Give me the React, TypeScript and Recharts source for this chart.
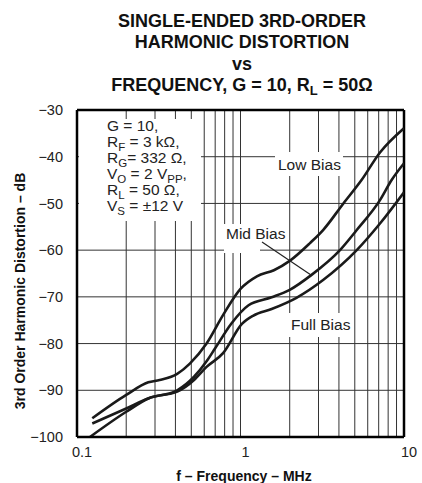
import React from 'react';
import { LineChart, Line, XAxis, YAxis, CartesianGrid, ReferenceLine } from 'recharts';

const FONT = '"Liberation Sans", Arial, Helvetica, sans-serif';

const xTicks = [0.1, 1, 10];
const yTicks = [-100, -90, -80, -70, -60, -50, -40, -30];
const minorFreqs = [0.2, 0.3, 0.4, 0.5, 0.6, 0.7, 0.8, 0.9, 1, 2, 3, 4, 5, 6, 7, 8, 9];

const lowFreq = [0.124, 0.2, 0.273, 0.32, 0.41, 0.49, 0.62, 0.785, 1.0, 1.26, 1.6, 2.0, 2.66, 3.2, 4.26, 5.5, 7.13, 10];
const lowDb = [-96.0, -91.0, -88.3, -87.8, -86.5, -84.3, -80.0, -73.8, -68.3, -65.6, -64.3, -62.3, -58.5, -55.7, -50.0, -45.0, -39.1, -33.9];

const midFreq = [0.124, 0.2, 0.275, 0.41, 0.52, 0.62, 0.7, 0.88, 1.12, 1.55, 2.0, 2.72, 4.06, 5.14, 7.13, 8.4, 10];
const midDb = [-97.1, -93.9, -91.7, -90.0, -87.1, -83.8, -81.0, -75.7, -71.8, -70.1, -68.5, -65.3, -60.0, -55.7, -49.3, -45.0, -41.4];

const fullFreq = [0.12, 0.2, 0.275, 0.41, 0.52, 0.62, 0.785, 1.02, 1.2, 1.55, 2.2, 3.2, 5.14, 7.13, 10];
const fullDb = [-100.0, -94.6, -91.7, -90.3, -87.8, -85.0, -82.0, -75.8, -74.0, -72.6, -70.2, -66.4, -60.0, -54.3, -47.6];

const toData = (fs: number[], ds: number[]) => fs.map((f, i) => ({ f, db: ds[i] }));
const lowData = toData(lowFreq, lowDb);
const midData = toData(midFreq, midDb);
const fullData = toData(fullFreq, fullDb);

const fmtY = (v: number) => String(v).replace('-', '\u2212');

const XTick = (p: any) => (
  <text x={p.x + 5} y={p.y} dy={12} textAnchor="middle" fontSize={14.5} fill="#222" fontFamily={FONT}>
    {p.payload.value}
  </text>
);

const SubLine = ({ x, y, parts }: { x: number; y: number; parts: [string, boolean][] }) => (
  <text x={x} y={y} fontSize={15.5} fill="#222" fontFamily={FONT}>
    {parts.map(([t, sub], i) => {
      const prevSub = i > 0 && parts[i - 1][1];
      const dy = sub && !prevSub ? 4 : !sub && prevSub ? -4 : 0;
      return (
        <tspan key={i} dy={dy} fontSize={sub ? 11.5 : 15.5}>
          {t}
        </tspan>
      );
    })}
  </text>
);

export default function App() {
  return (
    <div style={{ position: 'absolute', left: 0, top: 0, width: 422, height: 483, background: '#fff' }}>
      <LineChart width={422} height={483} margin={{ top: 110, right: 18, bottom: 16, left: 37 }}>
        <CartesianGrid vertical={false} stroke="#333" strokeWidth={1} />
        {minorFreqs.map((f) => (
          <ReferenceLine key={f} x={f} stroke="#333" strokeWidth={1} />
        ))}
        <XAxis
          dataKey="f"
          type="number"
          scale="log"
          domain={[0.1, 10]}
          ticks={xTicks}
          allowDataOverflow
          tickLine={false}
          axisLine={{ stroke: '#000', strokeWidth: 2.5 }}
          tick={XTick}
          height={30}
        />
        <YAxis
          dataKey="db"
          type="number"
          domain={[-100, -30]}
          ticks={yTicks}
          allowDataOverflow
          tickFormatter={fmtY}
          tickLine={false}
          tickMargin={8}
          axisLine={{ stroke: '#000', strokeWidth: 2.5 }}
          tick={{ fontSize: 14.5, fill: '#222', fontFamily: FONT }}
          width={40}
        />
        <ReferenceLine y={-30} stroke="#000" strokeWidth={2.5} />
        <ReferenceLine x={10} stroke="#000" strokeWidth={2.5} />
        <Line data={lowData} dataKey="db" type="monotone" stroke="#1a1a1a" strokeWidth={2.6} dot={false} isAnimationActive={false} />
        <Line data={midData} dataKey="db" type="monotone" stroke="#1a1a1a" strokeWidth={2.6} dot={false} isAnimationActive={false} />
        <Line data={fullData} dataKey="db" type="monotone" stroke="#1a1a1a" strokeWidth={2.6} dot={false} isAnimationActive={false} />
      </LineChart>
      <svg width={422} height={483} style={{ position: 'absolute', left: 0, top: 0, pointerEvents: 'none' }}>
        <g fontFamily={FONT} fontWeight="bold" fontSize={18} fill="#111" textAnchor="middle">
          <text x={242} y={27}>SINGLE-ENDED 3RD-ORDER</text>
          <text x={242} y={48}>HARMONIC DISTORTION</text>
          <text x={242} y={70}>vs</text>
          <text x={242} y={91}>
            FREQUENCY, G = 10, R<tspan dy={4} fontSize={13}>L</tspan>
            <tspan dy={-4}> = 50Ω</tspan>
          </text>
        </g>
        <text transform="translate(25,291) rotate(-90)" textAnchor="middle" fontFamily={FONT} fontWeight="bold" fontSize={14} fill="#111">
          3rd Order Harmonic Distortion – dB
        </text>
        <text x={244} y={481} textAnchor="middle" fontFamily={FONT} fontWeight="bold" fontSize={14} fill="#111">
          f – Frequency – MHz
        </text>

        <rect x={79} y={119} width={122} height={102} fill="#fff" />
        <SubLine x={107} y={131} parts={[['G = 10,', false]]} />
        <SubLine x={107} y={147} parts={[['R', false], ['F', true], [' = 3 kΩ,', false]]} />
        <SubLine x={107} y={163} parts={[['R', false], ['G', true], ['= 332 Ω,', false]]} />
        <SubLine x={107} y={179} parts={[['V', false], ['O', true], [' = 2 V', false], ['PP', true], [',', false]]} />
        <SubLine x={107} y={195} parts={[['R', false], ['L', true], [' = 50 Ω,', false]]} />
        <SubLine x={107} y={211} parts={[['V', false], ['S', true], [' = ±12 V', false]]} />

        <rect x={275} y={152} width={68} height={24} fill="#fff" />
        <text x={278} y={170} fontSize={15.5} fill="#222" fontFamily={FONT}>Low Bias</text>

        <rect x={224} y={224} width={65} height={17} fill="#fff" />
        <rect x={224} y={241} width={36} height={12} fill="#fff" />
        <text x={226} y={238.5} fontSize={15.5} fill="#222" fontFamily={FONT}>Mid Bias</text>
        <line x1={262} y1={242} x2={311} y2={275} stroke="#222" strokeWidth={1.2} />

        <rect x={289} y={313} width={63} height={24} fill="#fff" />
        <text x={291} y={330} fontSize={15.5} fill="#222" fontFamily={FONT}>Full Bias</text>
      </svg>
    </div>
  );
}
